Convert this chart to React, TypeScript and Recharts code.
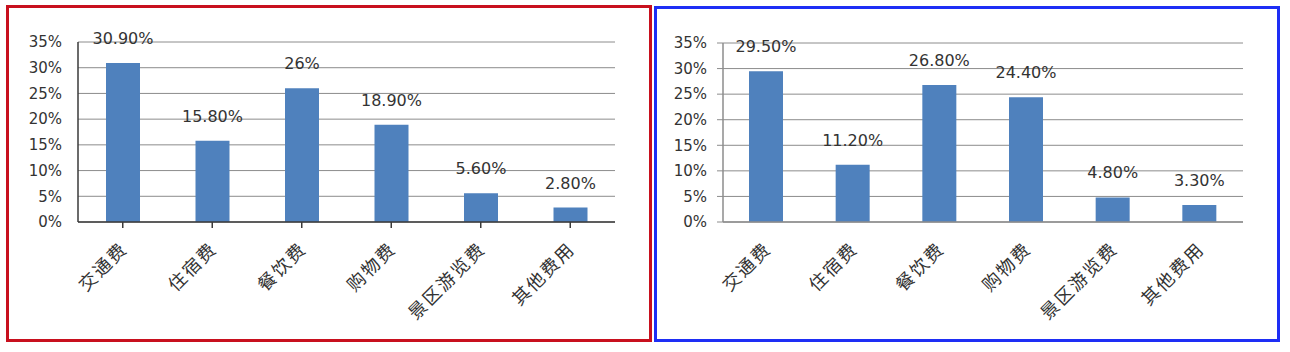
import React from 'react';
import { BarChart, Bar, XAxis, YAxis, CartesianGrid, LabelList } from 'recharts';

const categories = ['交通费', '住宿费', '餐饮费', '购物费', '景区游览费', '其他费用'];
const leftValues = [30.9, 15.8, 26, 18.9, 5.6, 2.8];
const rightValues = [29.5, 11.2, 26.8, 24.4, 4.8, 3.3];
const yTicks = [0, 5, 10, 15, 20, 25, 30, 35];

const BAR_COLOR = '#4F81BD';
const GRID_COLOR = '#8C8C8C';
const TEXT_COLOR = '#333333';
const LATIN_FONT = '"DejaVu Sans", Verdana, sans-serif';
const CJK_FONT = '"Noto Sans CJK SC", sans-serif';

const formatPct = (v: number) => (Number.isInteger(v) ? `${v}%` : `${v.toFixed(2)}%`);

// category names run diagonally, ending just right of each tick
const CategoryTick = (props: any) => {
  const { x, y, payload } = props;
  return (
    <g transform={`translate(${x + 6},${y + 20})`}>
      <text
        x={0}
        y={0}
        textAnchor="end"
        transform="rotate(-45)"
        fill={TEXT_COLOR}
        fontSize={18}
        letterSpacing={2}
        fontFamily={CJK_FONT}
      >
        {payload.value}
      </text>
    </g>
  );
};

interface PanelProps {
  values: number[];
  left: number;
  top: number;
  width: number;
  height: number;
  borderColor: string;
  axisColor: string;
  yTickLines: boolean;
  xTickLines: boolean;
}

const Panel: React.FC<PanelProps> = ({ values, left, top, width, height, borderColor, axisColor, yTickLines, xTickLines }) => {
  const data = categories.map((name, i) => ({ name, value: values[i] }));
  const border = 3;
  return (
    <div
      style={{
        position: 'absolute',
        left,
        top,
        width,
        height,
        boxSizing: 'border-box',
        border: `${border}px solid ${borderColor}`,
        background: '#fff',
      }}
    >
      <BarChart
        width={width - border * 2}
        height={height - border * 2}
        data={data}
        margin={{ top: 34, right: 34, left: yTickLines ? 6 : 9, bottom: 17 }}
      >
        <CartesianGrid stroke={GRID_COLOR} vertical={false} />
        <XAxis
          dataKey="name"
          height={100}
          interval={0}
          axisLine={{ stroke: axisColor, strokeWidth: 1.5 }}
          tickLine={xTickLines ? { stroke: axisColor, strokeWidth: 1.5 } : false}
          tickSize={6}
          tick={<CategoryTick />}
        />
        <YAxis
          width={60}
          domain={[0, 35]}
          ticks={yTicks}
          interval={0}
          tickFormatter={(v) => `${v}%`}
          axisLine={{ stroke: axisColor, strokeWidth: 1.5 }}
          tickLine={yTickLines ? { stroke: axisColor } : false}
          tickSize={6}
          tickMargin={10}
          tick={{ fill: TEXT_COLOR, fontSize: 15, fontFamily: LATIN_FONT }}
        />
        <Bar dataKey="value" fill={BAR_COLOR} barSize={34} isAnimationActive={false}>
          <LabelList
            dataKey="value"
            position="top"
            offset={19}
            formatter={(v: any) => formatPct(Number(v))}
            fill={TEXT_COLOR}
            fontSize={16}
            fontFamily={LATIN_FONT}
          />
        </Bar>
      </BarChart>
    </div>
  );
};

export default function App() {
  return (
    <div style={{ position: 'absolute', left: 0, top: 0, width: 1290, height: 352, background: '#fff' }}>
      <Panel
        values={leftValues}
        left={6}
        top={5}
        width={646}
        height={337}
        borderColor="#C8101E"
        axisColor="#3A3A3A"
        yTickLines={false}
        xTickLines={true}
      />
      <Panel
        values={rightValues}
        left={654}
        top={6}
        width={626}
        height={336}
        borderColor="#1E2EF5"
        axisColor={GRID_COLOR}
        yTickLines={true}
        xTickLines={false}
      />
    </div>
  );
}
